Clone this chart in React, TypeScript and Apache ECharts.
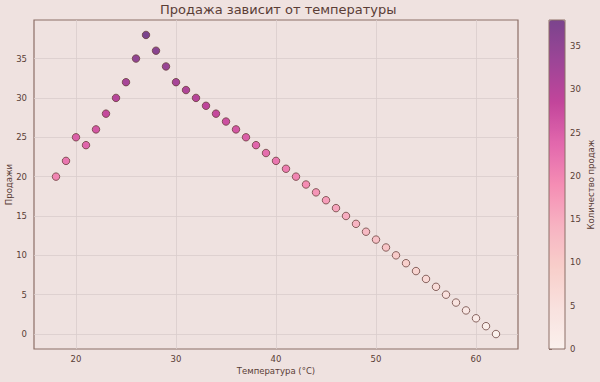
import React, { useEffect, useRef } from "react";
import * as echarts from "echarts";

const temperatures = [18, 19, 20, 21, 22, 23, 24, 25, 26, 27, 28, 29, 30, 31, 32, 33, 34, 35, 36, 37, 38, 39, 40, 41, 42, 43, 44, 45, 46, 47, 48, 49, 50, 51, 52, 53, 54, 55, 56, 57, 58, 59, 60, 61, 62];
const sales = [20, 22, 25, 24, 26, 28, 30, 32, 35, 38, 36, 34, 32, 31, 30, 29, 28, 27, 26, 25, 24, 23, 22, 21, 20, 19, 18, 17, 16, 15, 14, 13, 12, 11, 10, 9, 8, 7, 6, 5, 4, 3, 2, 1, 0];
const xTicks = [20, 30, 40, 50, 60];
const yTicks = [0, 5, 10, 15, 20, 25, 30, 35];
const cbTicks = [0, 5, 10, 15, 20, 25, 30, 35];
const RDPU = ["#fff7f3", "#fde0dd", "#fcc5c0", "#fa9fb5", "#f768a1", "#dd3497", "#ae017e", "#7a0177", "#49006a"];

const TITLE = "Продажа зависит от температуры";
const XNAME = "Температура (°C)";
const YNAME = "Продажи";
const CBNAME = "Количество продаж";

const BG = "#efe2e0";
const TEXT = "#5a3d36";
const SPINE = "#8c6e66";
const GRIDC = "#d9cdcc";
const EDGE = "rgba(100,60,55,0.75)";
const ALPHA = 0.7;

function hex(c: string): number[] {
  return [1, 3, 5].map((i) => parseInt(c.slice(i, i + 2), 16));
}
function blend(c: string): string {
  const a = hex(c);
  const b = hex(BG);
  const r = a.map((v, i) => Math.round(v * ALPHA + b[i] * (1 - ALPHA)));
  return "rgb(" + r.join(",") + ")";
}

export default function App() {
  const ref = useRef<HTMLDivElement>(null);
  useEffect(() => {
    if (!ref.current) return;
    const chart = echarts.init(ref.current, null, { renderer: "svg" });
    const maxSales = Math.max(...sales);
    chart.setOption({
      animation: false,
      backgroundColor: BG,
      textStyle: { fontFamily: "DejaVu Sans", color: TEXT },
      title: {
        text: TITLE,
        left: 160,
        top: 3,
        padding: 0,
        textStyle: { fontSize: 13, fontWeight: "normal", color: TEXT, fontFamily: "DejaVu Sans" },
      },
      grid: [
        { left: 34, top: 20, width: 484, height: 329, show: true, borderColor: SPINE, borderWidth: 1.2, backgroundColor: "transparent", containLabel: false, outerBoundsMode: "none" },
        { left: 549, top: 20, width: 16, height: 329, show: true, borderColor: SPINE, borderWidth: 1, backgroundColor: "transparent", z: 10, containLabel: false, outerBoundsMode: "none" },
      ],
      xAxis: [
        {
          type: "value",
          gridIndex: 0,
          min: 15.8,
          max: 64.2,
          name: XNAME,
          nameLocation: "middle",
          nameGap: 17,
          nameMoveOverlap: false,
          nameTextStyle: { fontSize: 8.5, color: TEXT },
          axisLine: { show: false },
          axisTick: { show: false, customValues: xTicks },
          axisLabel: { customValues: xTicks, fontSize: 8.5, color: TEXT, margin: 5 },
          splitLine: { show: true, lineStyle: { color: GRIDC, width: 0.8 } },
        },
        { type: "value", gridIndex: 1, min: 0, max: 1, show: false },
      ],
      yAxis: [
        {
          type: "value",
          gridIndex: 0,
          min: -1.9,
          max: 39.9,
          name: YNAME,
          nameLocation: "middle",
          nameGap: 21,
          nameMoveOverlap: false,
          nameTextStyle: { fontSize: 8.5, color: TEXT },
          axisLine: { show: false },
          axisTick: { show: false, customValues: yTicks },
          axisLabel: { customValues: yTicks, fontSize: 8.5, color: TEXT, margin: 7 },
          splitLine: { show: true, lineStyle: { color: GRIDC, width: 0.8 } },
        },
        {
          type: "value",
          gridIndex: 1,
          position: "right",
          min: 0,
          max: maxSales,
          name: CBNAME,
          nameLocation: "middle",
          nameGap: 21,
          nameRotate: 90,
          nameMoveOverlap: false,
          nameTextStyle: { fontSize: 8.5, color: TEXT },
          axisLine: { show: false },
          axisTick: { show: true, customValues: cbTicks, length: 3, lineStyle: { color: SPINE } },
          axisLabel: { customValues: cbTicks, fontSize: 8.5, color: TEXT, margin: 5 },
          splitLine: { show: false },
        },
      ],
      visualMap: {
        type: "continuous",
        min: 0,
        max: maxSales,
        dimension: 1,
        seriesIndex: 0,
        left: 549,
        top: 20,
        itemWidth: 16,
        itemHeight: 329,
        calculable: false,
        padding: 0,
        z: 1,
        inRange: { color: RDPU.map(blend) },
      },
      series: [
        {
          type: "scatter",
          xAxisIndex: 0,
          yAxisIndex: 0,
          data: temperatures.map((t, i) => [t, sales[i]]),
          symbolSize: 7.5,
          itemStyle: { borderColor: EDGE, borderWidth: 1, opacity: 1 },
        },
      ],
    });
    return () => chart.dispose();
  }, []);
  return <div ref={ref} style={{ width: 600, height: 382, position: "absolute", left: 0, top: 0 }} />;
}
